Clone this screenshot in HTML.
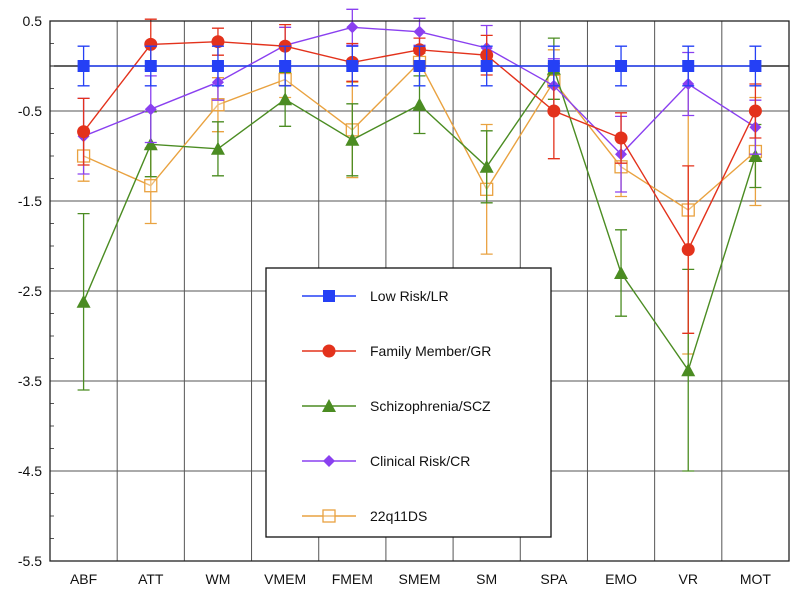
<!DOCTYPE html>
<html><head><meta charset="utf-8"><style>
body{margin:0;background:#fff;}
svg{display:block;font-family:"Liberation Sans",Arial,sans-serif;}
</style></head><body>
<svg id="chart" width="800" height="594">
<g id="grid"></g>
<g id="series"></g>
<g id="axes"></g>
<g id="legend"></g>
</svg>
<script>
const categories=["ABF","ATT","WM","VMEM","FMEM","SMEM","SM","SPA","EMO","VR","MOT"];
const yTicks=[0.5,-0.5,-1.5,-2.5,-3.5,-4.5,-5.5];
const seriesNames=["Low Risk/LR","Family Member/GR","Schizophrenia/SCZ","Clinical Risk/CR","22q11DS"];
const lrVals=[0,0,0,0,0,0,0,0,0,0,0];
const lrErr=[0.22,0.22,0.22,0.22,0.22,0.22,0.22,0.22,0.22,0.22,0.22];
const grVals=[-0.73,0.24,0.27,0.22,0.04,0.18,0.12,-0.5,-0.8,-2.04,-0.5];
const grErr=[0.37,0.28,0.15,0.24,0.21,0.13,0.22,0.53,0.28,0.93,0.3];
const sczVals=[-2.62,-0.87,-0.92,-0.37,-0.82,-0.43,-1.12,-0.03,-2.3,-3.38,-1.0];
const sczErr=[0.98,0.36,0.3,0.3,0.4,0.32,0.4,0.34,0.48,1.12,0.35];
const crVals=[-0.78,-0.48,-0.18,0.23,0.43,0.38,0.2,-0.22,-0.98,-0.2,-0.68];
const crErr=[0.42,0.37,0.2,0.2,0.2,0.15,0.25,0.3,0.42,0.35,0.3];
const q22Vals=[-1.0,-1.33,-0.43,-0.15,-0.71,0.04,-1.37,-0.17,-1.12,-1.6,-0.95];
const q22Err=[0.28,0.42,0.3,0.2,0.53,0.1,0.72,0.35,0.33,1.6,0.6];

const NS="http://www.w3.org/2000/svg";
const L=50,R=789,T=21,B=561;
const yMin=-5.5,yMax=0.5;
const step=(R-L)/categories.length;
function xPos(i){return L+step*(i+0.5);}
function yPos(v){return T+(yMax-v)/(yMax-yMin)*(B-T);}
function mk(tag,attrs,parent){const e=document.createElementNS(NS,tag);for(const k in attrs)e.setAttribute(k,attrs[k]);parent.appendChild(e);return e;}
const grid=document.getElementById('grid'),axes=document.getElementById('axes'),ser=document.getElementById('series'),leg=document.getElementById('legend');

yTicks.forEach(t=>{
  const y=yPos(t);
  const g=mk('line',{x1:L,x2:R,y1:y,y2:y,stroke:'#555','stroke-width':1},grid);
  
  
  const tx=mk('text',{x:L-8,y:y+5,'text-anchor':'end','font-size':14,fill:'#111'},axes);
  tx.textContent=t.toFixed(1);
  
  
});
for(let v=0.5;v>-5.5;v-=0.25){
  const y=yPos(v);
  const m=mk('line',{x1:L,x2:L+4,y1:y,y2:y,stroke:'#555','stroke-width':1},axes);
  
  
}
for(let i=1;i<categories.length;i++){
  const x=L+step*i;
  const g=mk('line',{x1:x,x2:x,y1:T,y2:B,stroke:'#555','stroke-width':1},grid);
  
  
}
categories.forEach((c,i)=>{
  const tx=mk('text',{x:xPos(i),y:584,'text-anchor':'middle','font-size':14,fill:'#111'},axes);
  tx.textContent=c;
  
  
});
const zl=mk('line',{x1:L,x2:R,y1:yPos(0),y2:yPos(0),stroke:'#000','stroke-width':1.3},grid);


const fr=mk('rect',{x:L,y:T,width:R-L,height:B-T,fill:'none',stroke:'#222','stroke-width':1.3},axes);



function marker(shape,x,y,color,parent){
  let e;
  if(shape==='square') e=mk('rect',{x:x-6,y:y-6,width:12,height:12,fill:color},parent);
  else if(shape==='circle') e=mk('circle',{cx:x,cy:y,r:6.5,fill:color},parent);
  else if(shape==='triangle') e=mk('polygon',{points:`${x},${y-7} ${x-7},${y+6} ${x+7},${y+6}`,fill:color},parent);
  else if(shape==='diamond') e=mk('polygon',{points:`${x},${y-6} ${x+6},${y} ${x},${y+6} ${x-6},${y}`,fill:color},parent);
  else e=mk('rect',{x:x-6,y:y-6,width:12,height:12,fill:'#fff','fill-opacity':0.3,stroke:color,'stroke-width':1.3},parent);
  return e;
}
const seriesDefs=[
  {vals:lrVals,err:lrErr,color:'#2540f5',shape:'square'},
  {vals:grVals,err:grErr,color:'#e3321c',shape:'circle'},
  {vals:sczVals,err:sczErr,color:'#4b8c22',shape:'triangle'},
  {vals:crVals,err:crErr,color:'#8a40f0',shape:'diamond'},
  {vals:q22Vals,err:q22Err,color:'#e9a240',shape:'open'}
];
const order=[4,2,3,1,0];
order.forEach(si=>{
  const s=seriesDefs[si];
  const g=mk('g',{},ser);
  
  
  s.vals.forEach((v,i)=>{
    const x=xPos(i),y1=yPos(v+s.err[i]),y2=yPos(v-s.err[i]);
    const eb=mk('path',{d:`M${x},${y1}V${y2}M${x-6},${y1}H${x+6}M${x-6},${y2}H${x+6}`,stroke:s.color,'stroke-width':1.3,fill:'none'},g);
    
    
  });
  const pl=mk('polyline',{points:s.vals.map((v,i)=>xPos(i)+','+yPos(v)).join(' '),fill:'none',stroke:s.color,'stroke-width':1.4},g);
  
  
  s.vals.forEach((v,i)=>{
    const m=marker(s.shape,xPos(i),yPos(v),s.color,g);
    
    
  });
});
const box=mk('rect',{x:266,y:268,width:285,height:269,fill:'#fff',stroke:'#111','stroke-width':1.3},leg);


seriesNames.forEach((n,i)=>{
  const y=296+i*55,s=seriesDefs[i];
  const g=mk('g',{},leg);
  
  
  mk('line',{x1:302,x2:356,y1:y,y2:y,stroke:s.color,'stroke-width':1.4},g);
  marker(s.shape,329,y,s.color,g);
  const t=mk('text',{x:370,y:y+5,'font-size':14,fill:'#111'},g);
  t.textContent=n;
});
</script>
</body></html>
